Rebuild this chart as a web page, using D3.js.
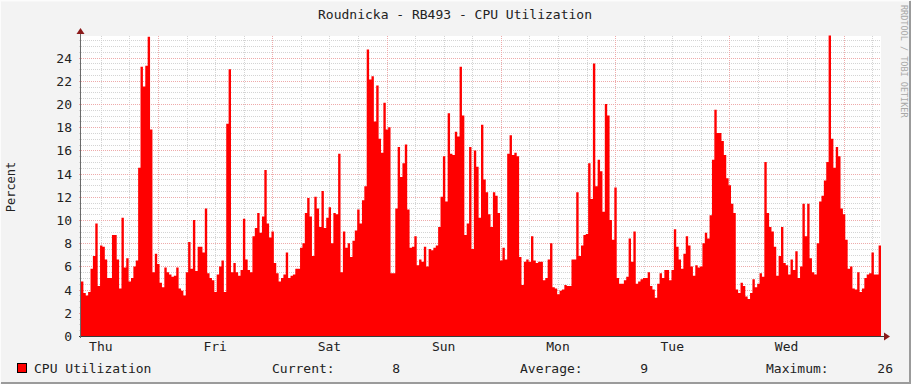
<!DOCTYPE html>
<html><head><meta charset="utf-8">
<script src="https://cdn.jsdelivr.net/npm/d3@7/dist/d3.min.js"></script>
<style>
html,body{margin:0;padding:0;background:#f3f3f3;}
svg{display:block;}
text{font-family:"DejaVu Sans Mono",monospace;}
</style></head>
<body><svg id="c" width="911" height="384"></svg>
<script>
// ---- data ----
const title = "Roudnicka - RB493 - CPU Utilization";
const yLabel = "Percent";
const seriesName = "CPU Utilization";
const startTime = "2015-01-01T07:50:00Z"; // Thursday
const stepMinutes = 30;
const yTicks = [0,2,4,6,8,10,12,14,16,18,20,22,24];
const yMax = 25.86;
const legendStats = [["Current:", "8"], ["Average:", "9"], ["Maximum:", "26"]];
const cpu = [
4.7,3.7,3.5,3.8,5.8,6.9,9.7,4.3,7.8,7.7,
6.6,5.0,5.0,8.7,8.7,6.6,4.1,10.2,5.9,6.7,
4.7,5.0,6.0,6.5,14.5,23.2,21.5,23.3,25.8,17.8,
5.5,7.1,6.2,4.6,4.2,5.9,5.5,5.3,5.1,5.2,
5.9,4.1,3.9,3.5,5.5,8.1,5.8,10.0,5.6,7.7,
7.7,7.2,11.0,5.4,5.0,4.8,3.8,5.3,6.0,6.5,
3.8,18.3,23.0,5.5,6.3,5.5,5.2,5.7,10.1,6.6,
5.7,5.5,8.6,9.3,10.6,8.9,10.3,14.3,9.7,8.5,
9.0,6.3,5.4,4.7,5.0,5.3,7.2,5.0,5.2,5.3,
5.8,5.8,7.6,8.0,10.6,11.9,10.3,6.9,12.0,11.0,
9.4,12.5,9.3,10.2,11.1,8.0,10.6,10.5,15.7,5.5,
9.0,7.6,8.0,6.8,8.2,9.1,10.9,9.7,11.7,12.9,
24.7,22.1,22.4,18.5,21.6,17.0,15.8,20.1,17.8,18.0,
5.4,5.4,11.0,16.3,13.7,14.9,16.5,10.9,7.6,7.7,
8.6,6.1,6.6,6.4,7.7,6.0,7.5,7.4,7.6,7.8,
9.4,12.0,15.5,11.6,19.2,15.7,15.6,17.6,17.2,23.2,
19.0,8.7,9.7,16.3,7.5,16.0,14.6,10.2,18.2,13.5,
12.4,10.5,9.4,12.4,12.1,10.6,6.5,7.6,6.6,15.7,
17.3,15.6,15.8,15.5,6.8,4.4,6.4,6.6,6.4,8.6,
6.5,6.3,6.4,6.4,4.8,5.0,6.6,8.0,4.2,4.1,
3.6,3.9,4.0,4.4,4.3,4.3,6.6,6.6,12.4,6.9,
7.8,8.7,8.8,14.9,11.8,23.5,12.9,15.2,14.2,10.7,
20.0,19.0,10.0,8.3,12.8,5.0,4.5,4.5,4.8,5.1,
8.4,6.4,9.0,4.5,4.7,4.9,5.0,5.0,5.5,4.3,
4.0,3.3,4.5,5.4,5.0,5.7,5.7,4.8,5.7,9.2,
7.7,6.6,5.8,7.1,8.6,7.8,6.0,5.2,6.1,5.9,
6.0,8.0,8.9,8.4,10.4,15.2,19.5,17.5,17.5,16.8,
15.6,13.6,13.0,11.4,10.6,4.0,3.7,4.6,4.3,3.4,
3.2,3.7,4.9,4.2,4.5,5.4,5.1,15.0,10.6,9.4,
9.0,7.7,5.2,6.9,9.4,6.3,6.1,5.3,6.6,5.7,
7.3,5.0,6.0,11.4,8.6,11.4,6.7,5.5,5.3,8.0,
11.6,12.1,13.4,15.0,25.9,17.0,14.5,16.3,15.5,11.0,
10.5,8.3,5.8,6.0,4.1,4.0,5.5,3.8,4.1,5.0,
5.3,5.4,7.2,5.3,5.3,7.8
];

// ---- chart ----
const W = 911, H = 384;
const m = {left: 81, right: 881, top: 36, bottom: 336};
const svg = d3.select("#c");
const t0 = new Date(startTime);
const stepMs = stepMinutes * 60000;
const t1 = new Date(t0.getTime() + cpu.length * stepMs);
const pts = cpu.map((v, i) => ({t: new Date(t0.getTime() + i * stepMs), v}));
pts.push({t: t1, v: cpu[cpu.length - 1]});

const x = d3.scaleUtc().domain([t0, t1]).range([m.left, m.right]);
const y = d3.scaleLinear().domain([0, yMax]).range([m.bottom, m.top]);

// background frame
svg.append("rect").attr("x",0).attr("y",0).attr("width",W).attr("height",H).attr("fill","#f3f3f3");
svg.append("path").attr("d",`M0,${H-1}V0.5H${W-1}`).attr("stroke","#fcfcfc").attr("stroke-width",2).attr("fill","none");
svg.append("path").attr("d",`M1,${H-1}H${W-1}V1`).attr("stroke","#9b9b9b").attr("stroke-width",2).attr("fill","none");

// plot background
svg.append("rect").attr("x",m.left).attr("y",m.top).attr("width",m.right-m.left).attr("height",m.bottom-m.top).attr("fill","#ffffff");

const grid = svg.append("g").attr("shape-rendering","crispEdges");
// minor horizontal
const minorY = d3.range(0.5, yMax, 0.5).filter(v => Math.abs(v/2 - Math.round(v/2)) > 1e-6);
grid.selectAll(".hmin").data(minorY).enter().append("line")
  .attr("x1", m.left - 2).attr("x2", m.right)
  .attr("y1", d => Math.round(y(d)) + 0.5).attr("y2", d => Math.round(y(d)) + 0.5)
  .attr("stroke","#d4d4d4").attr("stroke-dasharray","1,1");
// minor vertical (6h)
const minorX = d3.utcHour.every(6).range(t0, t1).filter(d => d.getUTCHours() !== 0);
grid.selectAll(".vmin").data(minorX).enter().append("line")
  .attr("x1", d => Math.round(x(d)) + 0.5).attr("x2", d => Math.round(x(d)) + 0.5)
  .attr("y1", m.top).attr("y2", m.bottom + 2)
  .attr("stroke","#d4d4d4").attr("stroke-dasharray","1,1");
// major horizontal
grid.selectAll(".hmaj").data(yTicks.filter(v => v > 0)).enter().append("line")
  .attr("x1", m.left - 2).attr("x2", m.right)
  .attr("y1", d => Math.round(y(d)) + 0.5).attr("y2", d => Math.round(y(d)) + 0.5)
  .attr("stroke","#eeaaaa").attr("stroke-dasharray","1,1");
// major vertical (midnight)
const majorX = d3.utcDay.range(t0, t1);
grid.selectAll(".vmaj").data(majorX).enter().append("line")
  .attr("x1", d => Math.round(x(d)) + 0.5).attr("x2", d => Math.round(x(d)) + 0.5)
  .attr("y1", m.top).attr("y2", m.bottom + 2)
  .attr("stroke","#eeaaaa").attr("stroke-dasharray","1,1");

// area
const area = d3.area().curve(d3.curveStepAfter)
  .x(d => x(d.t)).y0(y(0)).y1(d => y(d.v));
svg.append("path").datum(pts).attr("d", area).attr("fill","#ff0000");

// axes lines
const ax = svg.append("g").attr("shape-rendering","crispEdges");
ax.append("line").attr("x1", m.left - 2).attr("x2", m.right + 3).attr("y1", m.bottom + 0.5).attr("y2", m.bottom + 0.5).attr("stroke","#3a3a3a");
ax.append("line").attr("x1", m.left - 0.5).attr("x2", m.left - 0.5).attr("y1", m.bottom + 2).attr("y2", m.top - 4).attr("stroke","#6a6a6a");
svg.append("path").attr("d",`M${m.left+3},${m.bottom-3.5}L${m.left+3},${m.bottom+4.5}L${m.left+9},${m.bottom+0.5}Z`)
  .attr("transform",`translate(${m.right - m.left},0)`).attr("fill","#8b1a1a");
svg.append("path").attr("d",`M${m.left-4.5},${m.top-2}L${m.left+3.5},${m.top-2}L${m.left-0.5},${m.top-8}Z`).attr("fill","#8b1a1a");

// y tick labels
svg.selectAll(".yl").data(yTicks).enter().append("text")
  .attr("x", 72).attr("y", d => y(d) + 5)
  .attr("text-anchor","end").attr("font-size","13px").attr("fill","#222")
  .text(d => d);

// x labels at noon
const labelDays = d3.utcHour.every(12).range(t0, t1).filter(d => d.getUTCHours() === 12);
svg.selectAll(".xl").data(labelDays).enter().append("text")
  .attr("x", d => x(d)).attr("y", 351)
  .attr("text-anchor","middle").attr("font-size","13px").attr("fill","#222")
  .text(d => d3.utcFormat("%a")(d));

// title
svg.append("text").attr("x", 455).attr("y", 19).attr("text-anchor","middle")
  .attr("font-size","13px").attr("fill","#222").text(title);
// y label
svg.append("text").attr("transform","translate(15,187) rotate(-90)").attr("text-anchor","middle")
  .attr("font-size","12px").attr("fill","#222").text(yLabel);
// watermark
svg.append("text").attr("transform","translate(901,5) rotate(90)").attr("text-anchor","start")
  .attr("font-size","8.5px").attr("fill","#a8a8a8").text("RRDTOOL / TOBI OETIKER");

// legend
svg.append("rect").attr("x",17.5).attr("y",363.5).attr("width",9).attr("height",9)
  .attr("fill","#ff0000").attr("stroke","#000");
svg.append("text").attr("x",34).attr("y",372.5).attr("font-size","13px").attr("fill","#222").text(seriesName);
const statLabelX = [272, 520, 766];
const statValueRight = [400, 648, 893];
legendStats.forEach((s, i) => {
  svg.append("text").attr("x", statLabelX[i]).attr("y", 372.5).attr("font-size","13px").attr("fill","#222").text(s[0]);
  svg.append("text").attr("x", statValueRight[i]).attr("y", 372.5).attr("text-anchor","end").attr("font-size","13px").attr("fill","#222").text(s[1]);
});
</script></body></html>
